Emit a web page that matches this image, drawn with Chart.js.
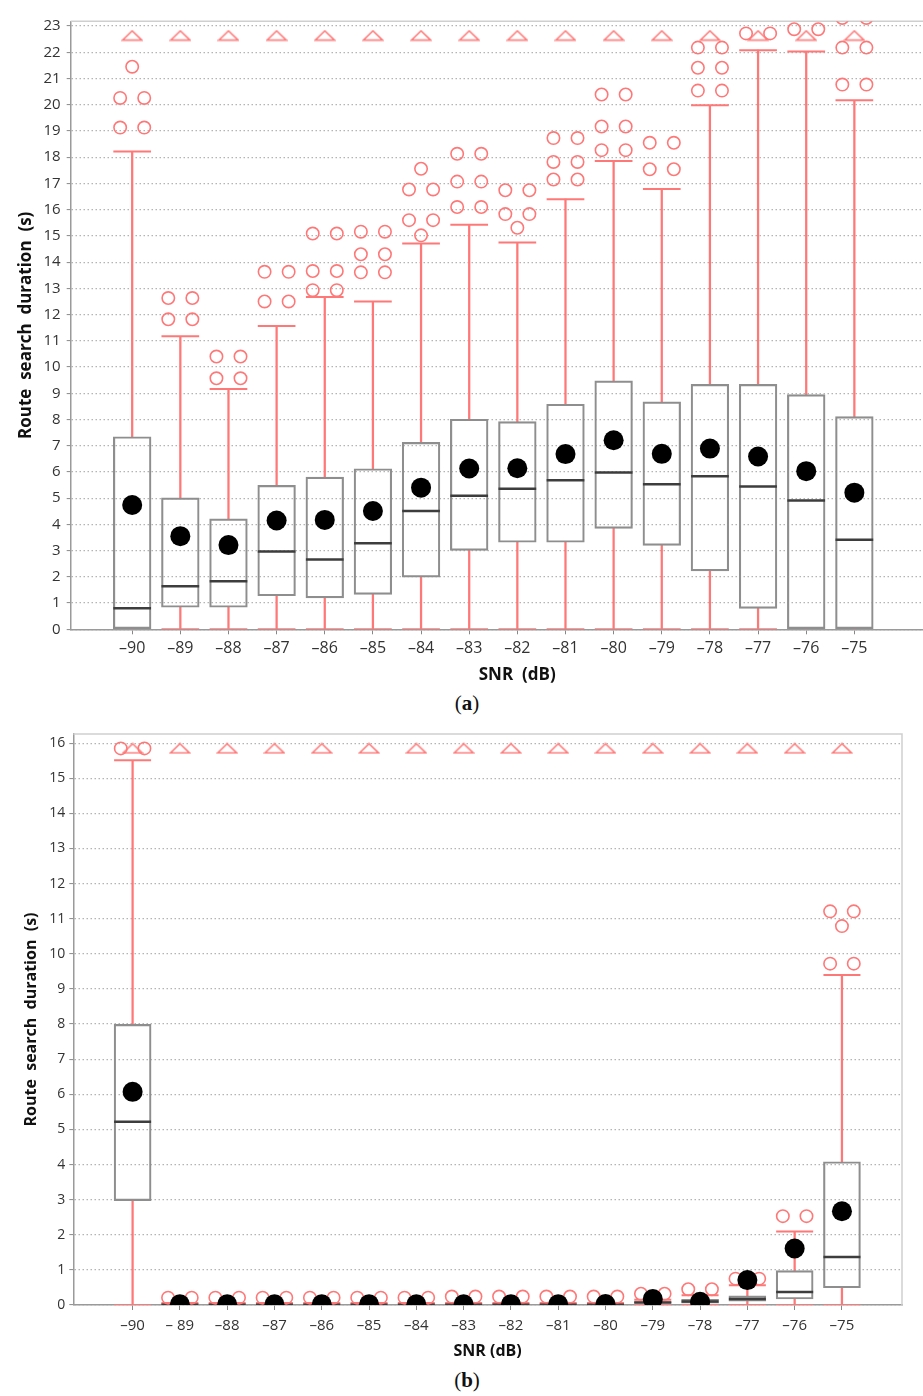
<!DOCTYPE html>
<html>
<head>
<meta charset="utf-8">
<script src="https://cdn.jsdelivr.net/npm/chart.js@4.4.0/dist/chart.umd.min.js"></script>
<style>
  html, body { margin: 0; padding: 0; background: #fff; overflow: hidden; }
  body { width: 923px; height: 1396px; position: relative; }
  canvas { position: absolute; left: 0; }
  #chartA { top: 0; }
  #chartB { top: 713px; }
  .panel { position: absolute; left: 0; width: 934px; text-align: center;
           font-family: 'Liberation Serif', 'DejaVu Serif', serif; font-size: 21px; color: #111; }
</style>
</head>
<body>
<canvas id="chartA" width="985" height="690"></canvas>
<div class="panel" style="top:691px">(<b>a</b>)</div>
<canvas id="chartB" width="923" height="650"></canvas>
<div class="panel" style="top:1368px">(<b>b</b>)</div>
<script>
// SNR categories and their tick labels
const snrValues = [-90, -89, -88, -87, -86, -85, -84, -83, -82, -81, -80, -79, -78, -77, -76, -75];
const snrLabelsA = ['–90', '–89', '–88', '–87', '–86', '–85', '–84', '–83', '–82', '–81', '–80', '–79', '–78', '–77', '–76', '–75'];
const snrLabelsB = ['–90', '– 89', '–88', '–87', '–86', '–85', '–84', '–83', '–82', '–81', '–80', '–79', '–78', '–77', '–76', '–75'];
const yTicksA = [0, 1, 2, 3, 4, 5, 6, 7, 8, 9, 10, 11, 12, 13, 14, 15, 16, 17, 18, 19, 20, 21, 22, 23];
const yTicksB = [0, 1, 2, 3, 4, 5, 6, 7, 8, 9, 10, 11, 12, 13, 14, 15, 16];

// Panel (a)
const lowA  = [0, 0, 0, 0, 0, 0, 0, 0, 0, 0, 0, 0, 0, 0, 0, 0];
const q1A   = [0, 0.84, 0.84, 1.28, 1.20, 1.33, 1.99, 3.01, 3.32, 3.32, 3.85, 3.20, 2.23, 0.80, 0, 0];
const medA  = [0.80, 1.64, 1.83, 2.97, 2.66, 3.28, 4.51, 5.09, 5.36, 5.68, 5.98, 5.53, 5.84, 5.44, 4.91, 3.41];
const q3A   = [7.34, 5.01, 4.21, 5.49, 5.80, 6.12, 7.13, 8.01, 7.92, 8.58, 9.47, 8.67, 9.34, 9.34, 8.95, 8.11];
const highA = [18.22, 11.17, 9.16, 11.56, 12.67, 12.50, 14.71, 15.42, 14.75, 16.40, 17.86, 16.79, 19.98, 22.08, 22.03, 20.17];
const meanA = [4.74, 3.55, 3.21, 4.15, 4.17, 4.51, 5.40, 6.13, 6.14, 6.68, 7.21, 6.69, 6.89, 6.59, 6.03, 5.21];
const farA  = [22.64, 22.64, 22.64, 22.64, 22.64, 22.64, 22.64, 22.64, 22.64, 22.64, 22.64, 22.64, 22.64, 22.64, 22.64, 22.64];
const outliersA = [
  [21.45, 20.26, 20.26, 19.13, 19.13],
  [12.63, 12.63, 11.82, 11.82],
  [10.40, 10.40, 9.57, 9.57],
  [13.63, 13.63, 12.50, 12.50],
  [15.09, 15.09, 13.66, 13.66, 12.93, 12.93],
  [15.16, 15.16, 14.30, 14.30, 13.61, 13.61],
  [17.56, 16.77, 16.77, 15.60, 15.60, 15.02],
  [18.13, 18.13, 17.07, 17.07, 16.10, 16.10],
  [16.74, 16.74, 15.83, 15.83, 15.31],
  [18.73, 18.73, 17.82, 17.82, 17.15, 17.15],
  [20.39, 20.39, 19.17, 19.17, 18.27, 18.27],
  [18.55, 18.55, 17.54, 17.54],
  [22.18, 22.18, 21.41, 21.41, 20.54, 20.54],
  [22.72, 22.72],
  [22.88, 22.88],
  [23.31, 23.31, 22.18, 22.18, 20.77, 20.77]
];

// Panel (b)
const lowB  = [0, 0, 0, 0, 0, 0, 0, 0, 0, 0, 0, 0, 0, 0, 0, 0];
const q1B   = [2.97, 0, 0, 0, 0, 0, 0, 0, 0, 0, 0, 0.05, 0.05, 0.11, 0.17, 0.49];
const medB  = [5.22, 0.01, 0.01, 0.01, 0.01, 0.01, 0.01, 0.01, 0.01, 0.01, 0.01, 0.07, 0.10, 0.17, 0.37, 1.37];
const q3B   = [7.99, 0.03, 0.03, 0.03, 0.03, 0.03, 0.03, 0.03, 0.03, 0.03, 0.03, 0.10, 0.16, 0.26, 0.98, 4.08];
const highB = [15.51, 0.06, 0.06, 0.06, 0.06, 0.06, 0.06, 0.06, 0.06, 0.06, 0.06, 0.15, 0.28, 0.56, 2.09, 9.40];
const meanB = [6.07, 0.02, 0.02, 0.02, 0.02, 0.02, 0.02, 0.02, 0.02, 0.02, 0.03, 0.17, 0.09, 0.71, 1.61, 2.67];
const farB  = [15.85, 15.85, 15.85, 15.85, 15.85, 15.85, 15.85, 15.85, 15.85, 15.85, 15.85, 15.85, 15.85, 15.85, 15.85, 15.85];
const outliersB = [
  [15.85, 15.85],
  [0.21, 0.21],
  [0.21, 0.21],
  [0.21, 0.21],
  [0.21, 0.21],
  [0.21, 0.21],
  [0.21, 0.21],
  [0.24, 0.24],
  [0.24, 0.24],
  [0.24, 0.24],
  [0.24, 0.24],
  [0.32, 0.32],
  [0.45, 0.45],
  [0.75, 0.75],
  [2.53, 2.53],
  [11.21, 11.21, 10.79, 9.72, 9.72]
];

const RED = '#ff7878';
const FONT = "'Open Sans', sans-serif";

// flat hollow triangle used for the far-out markers
function triangleMark() {
    const c = document.createElement('canvas');
    c.width = 22;
    c.height = 12;
    const ctx = c.getContext('2d');
    ctx.strokeStyle = RED;
    ctx.lineWidth = 1.6;
    ctx.beginPath();
    ctx.moveTo(1.5, 10.5);
    ctx.lineTo(11, 1.3);
    ctx.lineTo(20.5, 10.5);
    ctx.closePath();
    ctx.stroke();
    return c;
}

// repeated outlier values are drawn side by side, single ones in the middle
function outlierPoints(outliers) {
    const pts = [];
    outliers.forEach((vals, i) => {
        const counts = new Map();
        vals.forEach(v => counts.set(v, (counts.get(v) || 0) + 1));
        counts.forEach((n, v) => {
            if (n === 1) {
                pts.push({ x: snrValues[i], y: v });
            } else {
                pts.push({ x: snrValues[i] - 0.25, y: v });
                pts.push({ x: snrValues[i] + 0.25, y: v });
            }
        });
    });
    return pts;
}

const framePlugin = {
    id: 'frame',
    beforeDatasetsDraw(chart) {
        const { ctx, chartArea: a } = chart;
        ctx.save();
        ctx.strokeStyle = '#cfcfcf';
        ctx.lineWidth = 1.5;
        ctx.beginPath();
        ctx.moveTo(a.left, a.top);
        ctx.lineTo(a.right, a.top);
        ctx.lineTo(a.right, a.bottom);
        ctx.stroke();
        ctx.restore();
    }
};

function buildChart(id, s, p) {
    const at = (arr) => arr.map((y, i) => ({ x: snrValues[i], y }));
    const span = (lo, hi) => lo.map((v, i) => ({ x: snrValues[i], y: [v, hi[i]] }));
    // lower caps only where the lower whisker has some length
    const lowCaps = [];
    s.low.forEach((v, i) => { if (v < s.q1[i]) lowCaps.push({ x: snrValues[i], y: v }); });
    const caps = at(s.high).concat(lowCaps);
    const tri = triangleMark();

    return new Chart(document.getElementById(id), {
        type: 'bar',
        data: {
            datasets: [
                { type: 'scatter', data: at(s.mean), pointRadius: 10, pointBackgroundColor: '#000',
                  pointBorderWidth: 0, clip: 0 },
                { type: 'scatter', data: outlierPoints(s.outliers), pointRadius: 6.2, pointStyle: 'circle',
                  pointBackgroundColor: 'rgba(0,0,0,0)', pointBorderColor: RED, pointBorderWidth: 1.6, clip: 0 },
                { type: 'scatter', data: at(s.far), pointStyle: tri, clip: 0 },
                { type: 'scatter', data: at(s.med), pointStyle: 'line', pointRadius: p.box / 2,
                  pointBorderColor: '#3d3d3d', pointBorderWidth: 2.5, clip: 0 },
                { type: 'bar', data: span(s.q1, s.q3), barThickness: p.box, grouped: false,
                  backgroundColor: 'rgba(0,0,0,0)', borderColor: '#8e8e8e', borderWidth: 1.5, borderSkipped: false },
                { type: 'scatter', data: caps, pointStyle: 'line', pointRadius: p.box / 2,
                  pointBorderColor: RED, pointBorderWidth: 2, clip: 0 },
                { type: 'bar', data: span(s.q3, s.high), barThickness: 1.6, grouped: false,
                  backgroundColor: RED, borderWidth: 0 },
                { type: 'bar', data: span(s.low, s.q1), barThickness: 1.6, grouped: false,
                  backgroundColor: RED, borderWidth: 0 }
            ]
        },
        options: {
            responsive: false,
            animation: false,
            events: [],
            layout: { padding: { top: 12.7, right: p.right, left: 0, bottom: 0 } },
            plugins: { legend: { display: false }, tooltip: { enabled: false } },
            scales: {
                x: {
                    type: 'linear',
                    min: p.xMin,
                    max: p.xMax,
                    offset: false,
                    afterFit: (scale) => { scale.height = p.xHeight; },
                    afterBuildTicks: (scale) => { scale.ticks = snrValues.map(v => ({ value: v })); },
                    ticks: {
                        autoSkip: false, maxRotation: 0, padding: p.xTickPad, color: '#333',
                        font: { family: FONT, size: p.xTickFont },
                        callback: (v) => s.labels[snrValues.indexOf(v)]
                    },
                    grid: { drawOnChartArea: false, offset: false, tickLength: 5, tickColor: '#888', tickWidth: 1 },
                    border: { color: '#9a9a9a', width: 1.5 },
                    title: {
                        display: true, text: s.xTitle, color: '#111',
                        font: { family: FONT, size: p.titleFont, weight: 'bold' },
                        padding: { top: 0, bottom: p.xTitlePad }
                    }
                },
                y: {
                    type: 'linear',
                    min: 0,
                    max: p.yMax,
                    afterFit: (scale) => { scale.width = p.yWidth; },
                    afterBuildTicks: (scale) => { scale.ticks = s.yTicks.map(v => ({ value: v })); },
                    ticks: { padding: p.yTickPad, color: '#333', font: { family: FONT, size: p.yTickFont } },
                    grid: { color: '#b4b4b4', lineWidth: 1.2, tickLength: 4, tickColor: '#888', tickWidth: 1 },
                    border: { color: '#9a9a9a', width: 1.5, dash: [1.5, 2.5] },
                    title: {
                        display: true, text: 'Route  search  duration  (s)', color: '#111',
                        font: { family: FONT, size: p.titleFont, weight: 'bold' },
                        padding: { top: p.yTitlePad, bottom: 0 }
                    }
                }
            }
        },
        plugins: [framePlugin]
    });
}

buildChart('chartA',
    { low: lowA, q1: q1A, med: medA, q3: q3A, high: highA, mean: meanA, far: farA,
      outliers: outliersA, labels: snrLabelsA, yTicks: yTicksA, xTitle: 'SNR  (dB)' },
    { xMin: -91.277, xMax: -72.73, yMax: 23.18, right: 9.7, yWidth: 70.7, xHeight: 60.7, box: 37.7,
      yTickFont: 15, xTickFont: 16, titleFont: 17, yTitlePad: 16, xTitlePad: 4.8, xTickPad: 5, yTickPad: 6 });

buildChart('chartB',
    { low: lowB, q1: q1B, med: medB, q3: q3B, high: highB, mean: meanB, far: farB,
      outliers: outliersB, labels: snrLabelsB, yTicks: yTicksB, xTitle: 'SNR (dB)' },
    { xMin: -91.254, xMax: -73.73, yMax: 16.26, right: 11, yWidth: 73.3, xHeight: 58, box: 37,
      yTickFont: 14, xTickFont: 15, titleFont: 16, yTitlePad: 21.9, xTitlePad: 2.4, xTickPad: 6.7, yTickPad: 4 });
</script>
</body>
</html>
